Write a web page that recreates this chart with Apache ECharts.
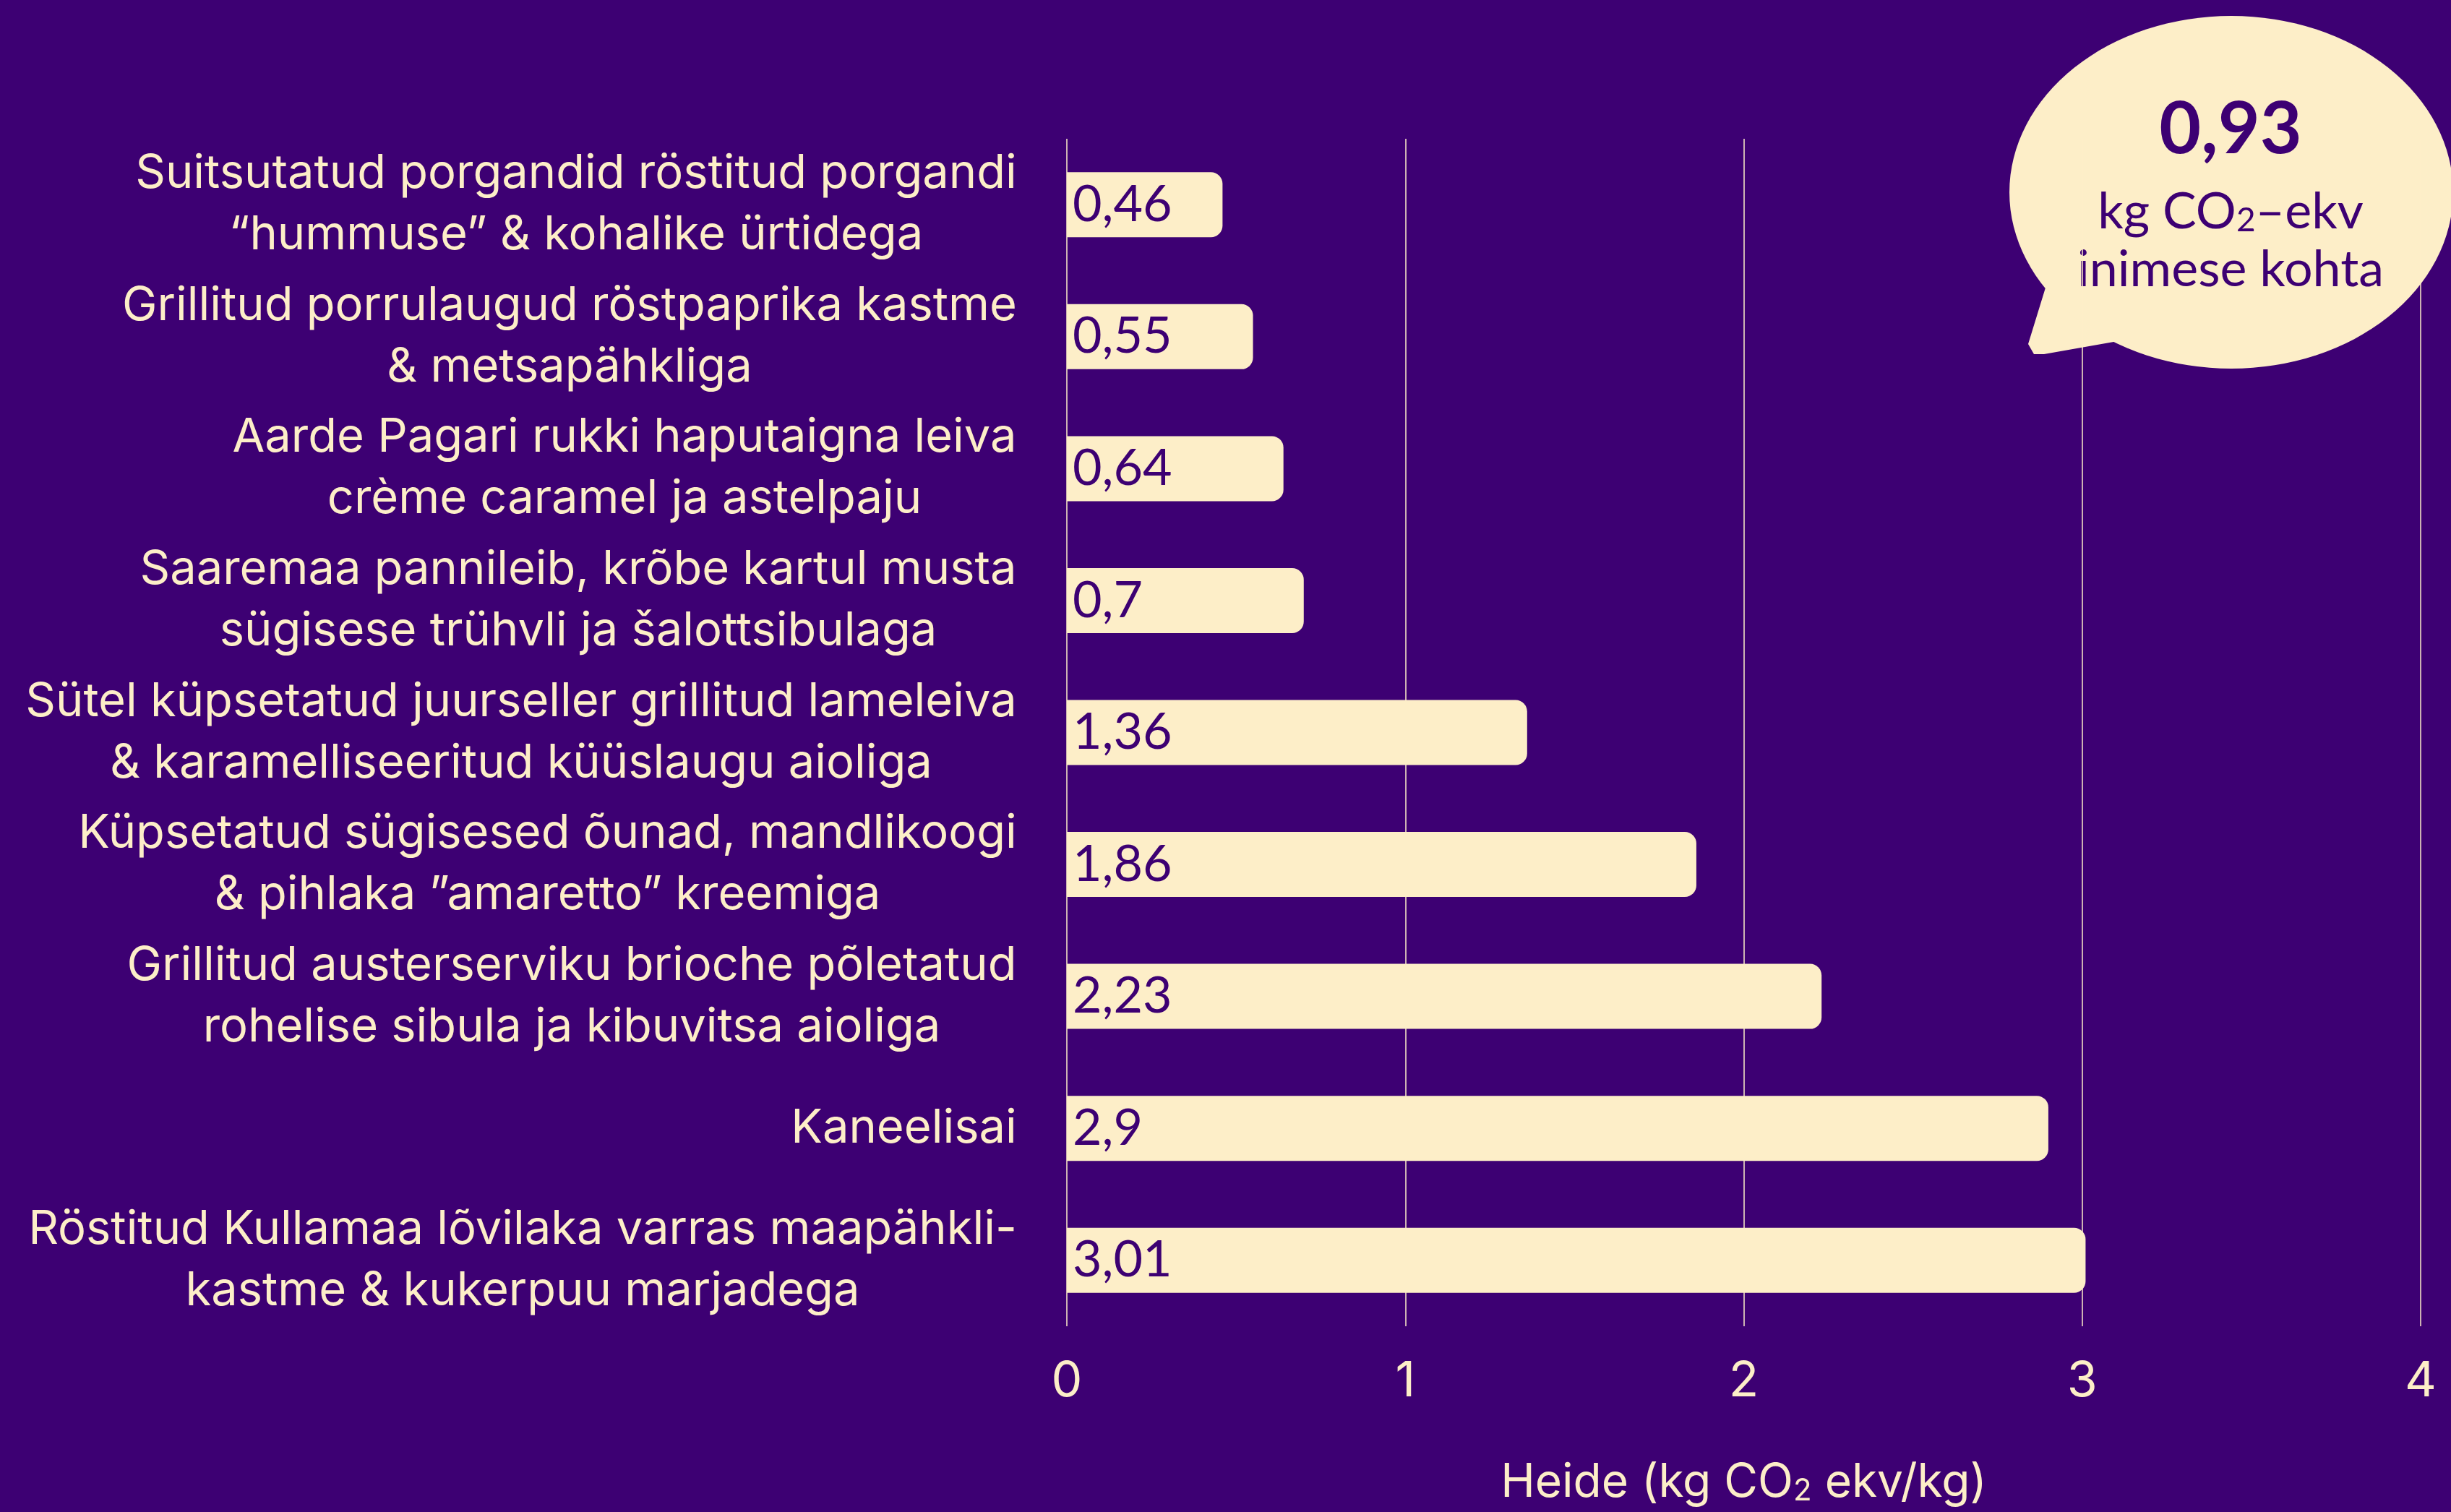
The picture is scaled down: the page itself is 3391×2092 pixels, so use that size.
<!DOCTYPE html>
<html>
<head>
<meta charset="utf-8">
<script src="https://cdn.jsdelivr.net/npm/echarts@6/dist/echarts.min.js"></script>
<style>
  html, body { margin: 0; padding: 0; background: #3d0073; }
  #chart { width: 3391px; height: 2092px; }
</style>
</head>
<body>
<div id="chart"></div>
<script>
const dishes = [
  'Suitsutatud porgandid röstitud porgandi\n“hummuse” & kohalike ürtidega',
  'Grillitud porrulaugud röstpaprika kastme\n& metsapähkliga',
  'Aarde Pagari rukki haputaigna leiva\ncrème caramel ja astelpaju',
  'Saaremaa pannileib, krõbe kartul musta\nsügisese trühvli ja šalottsibulaga',
  'Sütel küpsetatud juurseller grillitud lameleiva\n& karamelliseeritud küüslaugu aioliga',
  'Küpsetatud sügisesed õunad, mandlikoogi\n& pihlaka ”amaretto” kreemiga',
  'Grillitud austerserviku brioche põletatud\nrohelise sibula ja kibuvitsa aioliga',
  'Kaneelisai',
  'Röstitud Kullamaa lõvilaka varras maapähkli-\nkastme & kukerpuu marjadega'
]
const emissions = [0.46, 0.55, 0.64, 0.7, 1.36, 1.86, 2.23, 2.9, 3.01]
const xTicks = [0, 1, 2, 3, 4]
const perPerson = '0,93'

const bg = '#3d0073'
const cream = '#fdeec8'
const dark = '#3d0073'
const font = 'Lato'
const labelFont = 'Inter'
const labelSize = 65

// widest line of every label, so the lines can be centred inside a right-aligned block
const ctx = document.createElement('canvas').getContext('2d')
ctx.font = '400 ' + labelSize + 'px ' + labelFont
const rich = {}
dishes.forEach((d, i) => {
  const w = Math.max(...d.split('\n').map(s => ctx.measureText(s).width))
  rich['c' + i] = {
    width: Math.ceil(w) + 2,
    align: 'center',
    fontSize: labelSize,
    fontFamily: labelFont,
    color: cream,
    lineHeight: 85
  }
})

const chart = echarts.init(document.getElementById('chart'))

const option = {
  backgroundColor: bg,
  animation: false,
  grid: {
    left: 1476,
    right: 42,
    top: 192,
    bottom: 257
  },
  xAxis: {
    type: 'value',
    min: xTicks[0],
    max: xTicks[xTicks.length - 1],
    interval: 1,
    axisLine: { show: false },
    axisTick: { show: false },
    splitLine: {
      show: true,
      lineStyle: { color: 'rgba(253,238,200,0.75)', width: 2 }
    },
    axisLabel: {
      color: cream,
      fontSize: 68,
      fontFamily: labelFont,
      margin: 43
    },
    name: '{n|Heide (kg CO}{s|2}{n| ekv/kg)}',
    nameLocation: 'middle',
    nameGap: 185,
    nameTextStyle: {
      rich: {
        n: { fontSize: 64, fontFamily: labelFont, color: cream, verticalAlign: 'bottom' },
        s: { fontSize: 42, fontFamily: labelFont, color: cream, verticalAlign: 'bottom' }
      }
    }
  },
  yAxis: {
    type: 'category',
    inverse: true,
    data: dishes,
    axisLine: { show: false },
    axisTick: { show: false },
    splitLine: { show: false },
    axisLabel: {
      align: 'right',
      margin: 68,
      formatter: (value, index) => value.split('\n').map(s => '{c' + index + '|' + s + '}').join('\n'),
      rich
    }
  },
  series: [
    {
      type: 'bar',
      data: emissions,
      barWidth: 90,
      itemStyle: {
        color: cream,
        borderRadius: [0, 16, 16, 0]
      },
      label: {
        show: true,
        position: 'insideLeft',
        distance: 8,
        color: dark,
        fontSize: 70,
        fontFamily: font,
        formatter: p => String(p.value).replace('.', ',')
      }
    }
  ],
  graphic: [
    {
      type: 'polygon',
      shape: { points: [[2838, 372], [2806, 476], [2814, 490], [2828, 490], [2930, 472], [2990, 470]] },
      style: { fill: cream }
    },
    {
      type: 'circle',
      x: 3087,
      y: 266,
      scaleX: 1.258,
      shape: { cx: 0, cy: 0, r: 244 },
      style: { fill: cream }
    },
    {
      type: 'text',
      x: 3086,
      y: 180,
      style: {
        text: perPerson,
        font: 'bold 100px ' + font,
        fill: dark,
        align: 'center',
        verticalAlign: 'middle'
      }
    },
    {
      type: 'text',
      x: 3086,
      y: 328,
      style: {
        text: '{n|kg CO}{s|2}{n|–ekv}\n{n|inimese kohta}',
        align: 'center',
        verticalAlign: 'middle',
        rich: {
          n: { fontSize: 70, fontFamily: font, fill: dark, lineHeight: 80, verticalAlign: 'bottom' },
          s: { fontSize: 46, fontFamily: font, fill: dark, lineHeight: 80, verticalAlign: 'bottom' }
        }
      }
    }
  ]
}

chart.setOption(option)
</script>
</body>
</html>
